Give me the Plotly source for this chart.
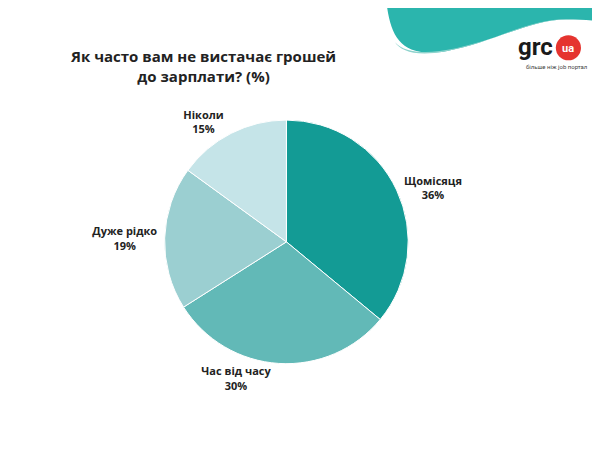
import plotly.graph_objects as go

labels = ["Щомісяця", "Час від часу", "Дуже рідко", "Ніколи"]
values = [36, 30, 19, 15]
colors = ["#139b95", "#62b9b7", "#9bcfd1", "#c5e4e8"]

fig = go.Figure(go.Pie(
    labels=labels, values=values, sort=False, direction="clockwise", rotation=0,
    marker=dict(colors=colors, line=dict(color="white", width=1)),
    texttemplate="<b>%{label}<br>%{value}%</b>", textposition="outside",
    textfont=dict(family="Open Sans", size=11, color="#222"),
    showlegend=False, hoverinfo="skip",
    domain=dict(x=[0.261, 0.667], y=[0.218, 0.754]),
))

shapes = [
    dict(type="path", xref="paper", yref="paper", layer="below",
         path="M 0.632 1 C 0.64 0.93, 0.66 0.89, 0.73 0.905 C 0.81 0.925, 0.87 0.975, 0.93 0.975 C 0.97 0.975, 1 0.97, 1 0.965 L 1 1 Z",
         fillcolor="#2bb5ad", line=dict(width=0)),
    dict(type="path", xref="paper", yref="paper", layer="below",
         path="M 0.645 0.925 C 0.67 0.89, 0.73 0.9, 0.81 0.935 C 0.86 0.96, 0.9 0.98, 0.95 0.975 L 0.93 0.975 C 0.87 0.975, 0.81 0.925, 0.73 0.905 C 0.68 0.893, 0.655 0.905, 0.645 0.925 Z",
         fillcolor="#8fd3cd", line=dict(width=0)),
    dict(type="circle", xref="paper", yref="paper",
         x0=0.913, x1=0.955, y0=0.885, y1=0.94, fillcolor="#e5342f", line=dict(width=0)),
]

annotations = [
    dict(text="<b>Як часто вам не вистачає грошей<br>до зарплати? (%)</b>", x=195/600, y=1-58/455,
         xref="paper", yref="paper", showarrow=False, xanchor="center", yanchor="middle",
         font=dict(family="Open Sans", size=15, color="#222"), align="center"),
    dict(text="<b>grc</b>", x=0.912, y=1-39/455, xref="paper", yref="paper", showarrow=False,
         xanchor="right", yanchor="middle", font=dict(family="Roboto", size=24, color="#1a1a1a")),
    dict(text="<b>ua</b>", x=0.934, y=0.912, xref="paper", yref="paper", showarrow=False,
         xanchor="center", yanchor="middle", font=dict(family="Roboto", size=11, color="white")),
    dict(text="більше ніж job портал", x=0.915, y=1-59/455, xref="paper", yref="paper", showarrow=False,
         xanchor="center", yanchor="middle", font=dict(family="Roboto", size=6, color="#444")),
]

fig.update_layout(width=600, height=455, margin=dict(l=0, r=0, t=0, b=0),
                  paper_bgcolor="white", plot_bgcolor="white",
                  shapes=shapes, annotations=annotations)
fig.write_html("out.html")
